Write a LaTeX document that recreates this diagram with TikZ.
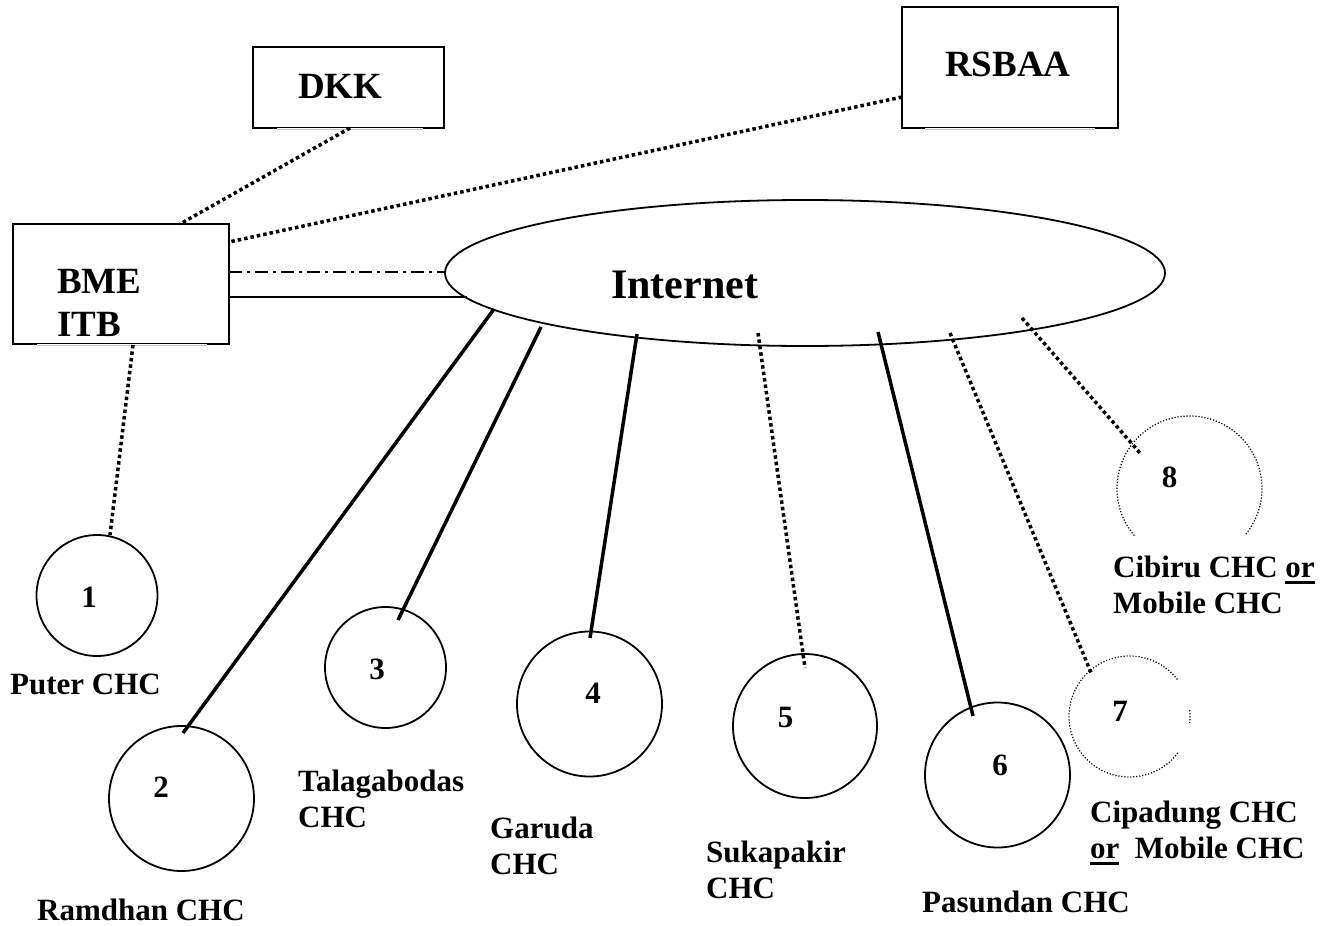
\documentclass[tikz,border=0pt]{standalone}
\usepackage{fontspec}
\setmainfont{Liberation Serif}[BoldFont={Liberation Serif Bold}]
\usetikzlibrary{shapes.geometric,calc}
\newcommand\ulword[1]{\setbox0\hbox{#1}\rlap{\rule[-7pt]{\wd0}{3pt}}\box0}
\begin{document}
\begin{tikzpicture}[x=1pt,y=-1pt,
  box/.style={draw, line width=1.8pt, inner sep=0pt},
  hub/.style={ellipse, draw, line width=1.8pt, inner sep=0pt, minimum width=720pt, minimum height=146pt},
  site/.style={circle, draw, line width=1.8pt, inner sep=0pt},
  ghost/.style={circle, inner sep=0pt},
  lbl/.style={font=\fontsize{31}{36}\selectfont\bfseries, anchor=base west, inner sep=0pt},
  num/.style={font=\fontsize{31}{36}\selectfont\bfseries, anchor=base, inner sep=0pt},
  ttl/.style={font=\fontsize{37}{43}\selectfont\bfseries, anchor=base west, inner sep=0pt},
  dots/.style={line width=3.5pt, dash pattern=on 3.5pt off 3pt},
  wire/.style={line width=3.5pt},
  link/.style={line width=2pt},
  dashdotline/.style={line width=1.5pt, dash pattern=on 13pt off 5pt on 3pt off 5pt},
  finedot/.style={line width=1.2pt, dash pattern=on 1.2pt off 1.8pt},
  faded/.style={draw=gray!45, line width=0.8pt}]
\useasboundingbox (0,0) rectangle (1333,926);

% boxes
\node[box, minimum width=191pt, minimum height=81pt] (dkk) at (348.5,87.5) {};
\node[ttl] (dkkt) at (298,98) {DKK};
\node[box, minimum width=216pt, minimum height=121pt] (rsbaa) at (1010,67.5) {};
\node[ttl] (rsbaat) at (945,76) {RSBAA};
\node[box, minimum width=216pt, minimum height=120pt] (bme) at (121,284) {};
\node[ttl] (bmet) at (57,293) {\vtop{\baselineskip=43pt \hbox{BME}\hbox{ITB}}};

% faded bottom edges
\draw[white, line width=2.6pt] ([xshift=25pt]dkk.south west) -- ([xshift=-22pt]dkk.south east);
\draw[faded] ([xshift=25pt]dkk.south west) -- ([xshift=-22pt]dkk.south east);
\draw[white, line width=2.6pt] ([xshift=24pt]rsbaa.south west) -- ([xshift=-24pt]rsbaa.south east);
\draw[faded] ([xshift=24pt]rsbaa.south west) -- ([xshift=-24pt]rsbaa.south east);
\draw[white, line width=2.6pt] ([xshift=25pt]bme.south west) -- ([xshift=-23pt]bme.south east);
\draw[faded] ([xshift=25pt]bme.south west) -- ([xshift=-23pt]bme.south east);

% internet
\node[hub] (inet) at (805,273) {};
\node[font=\fontsize{42}{48}\selectfont\bfseries, anchor=base west, inner sep=0pt] (inett) at (611,298) {Internet};

% sites
\node[site, minimum size=121pt] (c1) at (97,595.5) {};
\node[site, minimum size=145pt] (c2) at (181.5,798.5) {};
\node[site, minimum size=121pt] (c3) at (385.5,667.5) {};
\node[site, minimum size=145pt] (c4) at (589.5,704) {};
\node[site, minimum size=144pt] (c5) at (805,726) {};
\node[site, minimum size=145pt] (c6) at (997.5,775) {};
\node[ghost, minimum size=121pt] (c7) at (1129.5,716.5) {};
\node[ghost, minimum size=145pt] (c8) at (1189.5,488.5) {};
\draw[finedot] ($(c7.center)+(37:60.5)$) arc[start angle=37, end angle=323, radius=60.5];
\draw[finedot] ($(c7.center)+(-6:60.5)$) arc[start angle=-6, end angle=6, radius=60.5];
\draw[finedot] ($(c8.center)+(139.5:72.5)$) arc[start angle=139.5, end angle=400, radius=72.5];

% numbers
\node[num] (n1) at (89,607) {1};
\node[num] (n2) at (161,797) {2};
\node[num] (n3) at (377,679) {3};
\node[num] (n4) at (593,703) {4};
\node[num] (n5) at (785.5,727) {5};
\node[num] (n6) at (1000,775) {6};
\node[num] (n7) at (1120,721) {7};
\node[num] (n8) at (1169.5,487) {8};

% labels
\node[lbl] (l1) at (10,694) {Puter CHC};
\node[lbl] (l2) at (37,920) {Ramdhan CHC};
\node[lbl] (l3) at (298,791) {\vtop{\hbox{Talagabodas}\hbox{CHC}}};
\node[lbl] (l4) at (490,838) {\vtop{\hbox{Garuda}\hbox{CHC}}};
\node[lbl] (l5) at (706,862) {\vtop{\hbox{Sukapakir}\hbox{CHC}}};
\node[lbl] (l6) at (922,912) {Pasundan CHC};
\node[lbl] (l7) at (1090,822) {\vtop{\hbox{Cipadung CHC}\hbox{\ulword{or}\ \ Mobile CHC}}};
\node[lbl] (l8) at (1113,577) {\vtop{\hbox{Cibiru CHC \ulword{or}}\hbox{Mobile CHC}}};

% connectors
\draw[dots] ($(dkk.center)+(1.5,40.5)$) -- ($(bme.center)+(59,-60)$);
\draw[dots] ($(rsbaa.center)+(-108,29.5)$) -- ($(bme.center)+(108,-42)$);
\draw[dashdotline] ($(bme.center)+(108,-12)$) -- ($(inet.center)+(-360,-1)$);
\draw[link] ($(bme.center)+(108,13)$) -- ($(inet.center)+(-338,24)$);
\draw[dots] ($(bme.center)+(12,61)$) -- ($(c1.center)+(13,-60.5)$);
\draw[wire] ($(inet.center)+(-311,36)$) -- ($(c2.center)+(1.5,-65.5)$);
\draw[wire] ($(inet.center)+(-264,54)$) -- ($(c3.center)+(12.5,-47.5)$);
\draw[wire] ($(inet.center)+(-168,61)$) -- ($(c4.center)+(0.5,-66)$);
\draw[dots] ($(inet.center)+(-47,60)$) -- ($(c5.center)+(0,-58)$);
\draw[wire] ($(inet.center)+(73,59)$) -- ($(c6.center)+(-24.5,-59)$);
\draw[dots] ($(inet.center)+(145,60)$) -- ($(c7.center)+(-37.5,-41.5)$);
\draw[dots] ($(inet.center)+(217,45)$) -- ($(c8.center)+(-49.5,-35.5)$);
\end{tikzpicture}
\end{document}
